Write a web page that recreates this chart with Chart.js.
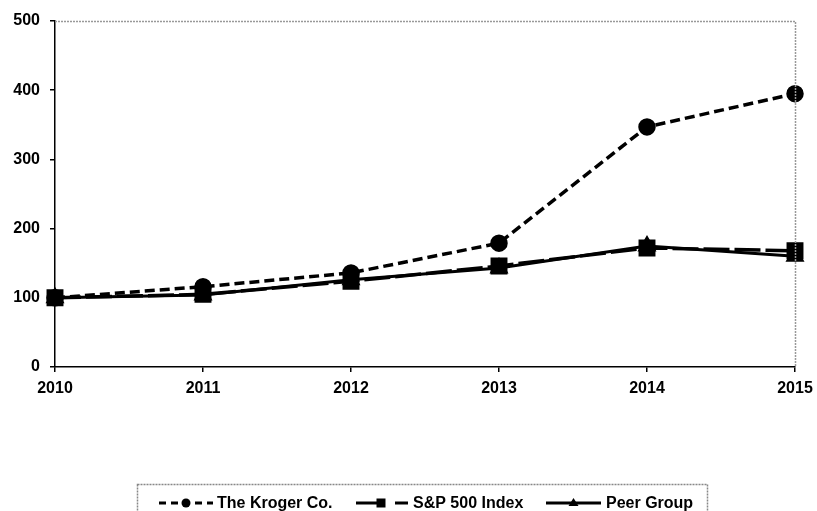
<!DOCTYPE html>
<html><head><meta charset="utf-8">
<script src="https://cdn.jsdelivr.net/npm/chart.js@4"></script>
<style>html,body{margin:0;padding:0;background:#fff}#w{width:817px;height:511px}</style>
</head><body><div id="w"><canvas id="c" width="817" height="511"></canvas></div>
<script>
const categories = ['2010','2011','2012','2013','2014','2015'];
const kroger = [100, 116, 136, 179, 347, 395];
const sp500 = [100, 105, 124, 146, 172, 168];
const peer = [100, 104, 126, 143, 175, 160];
const yTicks = [0, 100, 200, 300, 400, 500];
const seriesNames = ['The Kroger Co.', 'S&P 500 Index', 'Peer Group'];

const FAMILY = '"Liberation Sans", Arial, sans-serif';
const FONT = 'bold 16px ' + FAMILY;

const framePlugin = {
  id: 'frame',
  afterDatasetsDraw(chart) {
    const {ctx, chartArea: a} = chart;
    ctx.save();
    ctx.strokeStyle = '#999';
    ctx.lineWidth = 1.5;
    ctx.setLineDash([2,1]);
    ctx.beginPath();
    ctx.moveTo(a.left, a.top + 0.5);
    ctx.lineTo(a.right + 0.5, a.top + 0.5);
    ctx.lineTo(a.right + 0.5, a.bottom);
    ctx.stroke();
    ctx.restore();
  },
  afterDraw(chart) {
    const ctx = chart.ctx;
    ctx.save();
    ctx.strokeStyle = '#888';
    ctx.lineWidth = 1.5;
    ctx.setLineDash([2,1]);
    ctx.strokeRect(137.5, 484.5, 570, 40);
    ctx.setLineDash([]);
    const items = [
      {x0: 159, x1: 213, tx: 217, dash: [7, 5]},
      {x0: 356, x1: 408, tx: 413, dash: [29, 10]},
      {x0: 546, x1: 601, tx: 606, dash: []}
    ];
    const y = 503;
    chart.data.datasets.forEach((ds, i) => {
      const it = items[i];
      ctx.strokeStyle = '#000';
      ctx.lineWidth = 3;
      ctx.setLineDash(it.dash);
      ctx.beginPath();
      ctx.moveTo(it.x0, y);
      ctx.lineTo(it.x1, y);
      ctx.stroke();
      ctx.setLineDash([]);
      const cx = ds.pointStyle === 'rect' ? 381 : (it.x0 + it.x1) / 2;
      ctx.fillStyle = '#000';
      ctx.beginPath();
      if (ds.pointStyle === 'circle') ctx.arc(cx, y, 4.5, 0, Math.PI*2);
      else if (ds.pointStyle === 'rect') ctx.rect(cx - 4.5, y - 4.5, 9, 9);
      else { ctx.moveTo(cx, y - 5); ctx.lineTo(cx + 5, y + 3); ctx.lineTo(cx - 5, y + 3); ctx.closePath(); }
      ctx.fill();
      ctx.font = FONT;
      ctx.textAlign = 'left';
      ctx.textBaseline = 'middle';
      ctx.fillText(seriesNames[i], it.tx, y + 1);
    });
    ctx.restore();
  }
};

new Chart(document.getElementById('c'), {
  type: 'line',
  data: {
    labels: categories,
    datasets: [
      {label: seriesNames[0], data: kroger, borderColor: '#000', backgroundColor: '#000', borderWidth: 3.5,
       borderDash: [10, 5], pointStyle: 'circle', pointRadius: 7, tension: 0, order: 2},
      {label: seriesNames[1], data: sp500, borderColor: '#000', backgroundColor: '#000', borderWidth: 3.5,
       borderDash: [26, 5], pointStyle: 'rect', pointRadius: 9.5, tension: 0, order: 0},
      {label: seriesNames[2], data: peer, borderColor: '#000', backgroundColor: '#000', borderWidth: 3,
       pointStyle: 'triangle', pointRadius: 8, tension: 0, order: 1}
    ]
  },
  options: {
    responsive: false,
    animation: false,
    layout: {padding: {left: 0, right: 22, top: 21, bottom: 114}},
    plugins: {legend: {display: false}, tooltip: {enabled: false}},
    scales: {
      x: {
        offset: false,
        grid: {display: true, drawOnChartArea: false, drawTicks: true, tickLength: 5, color: '#000', lineWidth: 1.5},
        border: {color: '#000', width: 1.5},
        ticks: {color: '#000', font: {family: FAMILY, size: 16, weight: 'bold'}, padding: 7, maxRotation: 0},
        afterFit(s) { s.height = 30; s.paddingRight = 0; s.paddingLeft = 0; }
      },
      y: {
        min: 0, max: 500,
        afterBuildTicks(s) { s.ticks = yTicks.map(v => ({value: v})); },
        grid: {display: true, drawOnChartArea: false, drawTicks: true, tickLength: 5, color: '#000', lineWidth: 1.5},
        border: {color: '#000', width: 1.5},
        ticks: {color: '#000', font: {family: FAMILY, size: 16, weight: 'bold'}, padding: 10},
        afterFit(s) { s.width = 55; }
      }
    }
  },
  plugins: [framePlugin]
});
</script></body></html>
